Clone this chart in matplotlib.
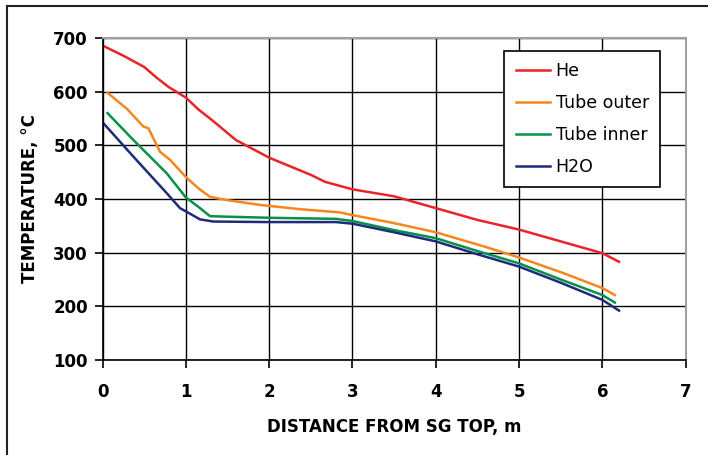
import matplotlib.pyplot as plt
from matplotlib.lines import Line2D

# temperature profiles along the steam generator
x_he = [0, 0.25, 0.5, 0.65, 0.8, 1.0, 1.15, 1.33, 1.6, 2.0, 2.5, 2.67, 3.0,
        3.5, 4.0, 4.5, 5.0, 5.5, 6.0, 6.2]
t_he = [686, 667, 646, 626, 608, 589, 567, 545, 510, 477, 445, 432, 418,
        405, 383, 361, 343, 321, 299, 283]

x_out = [0.06, 0.3, 0.49, 0.55, 0.69, 0.81, 1.0, 1.15, 1.29, 1.49, 1.89,
         2.37, 2.85, 3.0, 3.5, 4.0, 4.57, 5.0, 5.53, 6.0, 6.15]
t_out = [598, 567, 535, 532, 488, 473, 441, 420, 404, 398, 389,
         381, 375, 370, 355, 338, 312, 291, 262, 234, 221]

x_in = [0.06, 0.37, 0.77, 1.0, 1.17, 1.29, 1.5, 2.0, 2.8, 3.0, 3.5, 4.0,
        4.5, 5.0, 5.5, 6.0, 6.15]
t_in = [560, 510, 448, 403, 383, 368, 367, 365, 363, 359, 342, 327,
        303, 280, 250, 221, 207]

x_h2o = [0, 0.37, 0.77, 0.93, 1.0, 1.17, 1.33, 2.0, 2.8, 3.0, 3.5, 4.0,
         4.5, 5.0, 5.5, 6.0, 6.2]
t_h2o = [543, 479, 411, 383, 377, 362, 358, 357, 357, 354, 338, 321,
         297, 274, 244, 212, 192]

fig = plt.figure(figsize=(7.08, 4.55), dpi=100)
ax = fig.add_axes([0.1448, 0.2088, 0.8237, 0.7077])

lw = 1.8
ax.plot(x_he, t_he, color='#e8242b', lw=lw, label='He')
ax.plot(x_out, t_out, color='#f7861f', lw=lw, label='Tube outer')
ax.plot(x_in, t_in, color='#05914a', lw=lw, label='Tube inner')
ax.plot(x_h2o, t_h2o, color='#1f2b7a', lw=lw, label='H2O')

ax.set_xlim(0, 7)
ax.set_ylim(100, 700)
ax.set_xticks(range(0, 8))
ax.set_yticks(range(100, 701, 100))
ax.grid(True, color='black', lw=1.0)
ax.set_axisbelow(True)

for s in ['top', 'right']:
    ax.spines[s].set_color('#a0a0a0')
    ax.spines[s].set_linewidth(1.5)
for s in ['left', 'bottom']:
    ax.spines[s].set_color('black')
    ax.spines[s].set_linewidth(1.2)

ax.tick_params(axis='both', direction='out', length=5.5, width=1.2,
               labelsize=12)
ax.tick_params(axis='x', pad=11)
ax.tick_params(axis='y', pad=5)
for lab in ax.get_xticklabels() + ax.get_yticklabels():
    lab.set_fontweight('bold')

ax.set_xlabel('DISTANCE FROM SG TOP, m', fontsize=12, fontweight='bold',
              labelpad=12)
ax.set_ylabel('TEMPERATURE, °C', fontsize=12, fontweight='bold', labelpad=10)

leg = ax.legend(loc='upper right', bbox_to_anchor=(0.956, 0.96),
                borderaxespad=0, fontsize=12.5, frameon=True, fancybox=False,
                handlelength=2.0, labelspacing=0.8, borderpad=0.65,
                handletextpad=0.3)
leg.get_frame().set_edgecolor('black')
leg.get_frame().set_linewidth(1.2)
leg.get_frame().set_alpha(1)

# outer frame, top and left edges only
fig.add_artist(Line2D([0.0099, 0.0099], [0, 0.9868], color='#222222',
                      lw=1.5, transform=fig.transFigure))
fig.add_artist(Line2D([0.0099, 1.0], [0.9868, 0.9868], color='#222222',
                      lw=1.5, transform=fig.transFigure))

fig.savefig('out.png', dpi=100)
